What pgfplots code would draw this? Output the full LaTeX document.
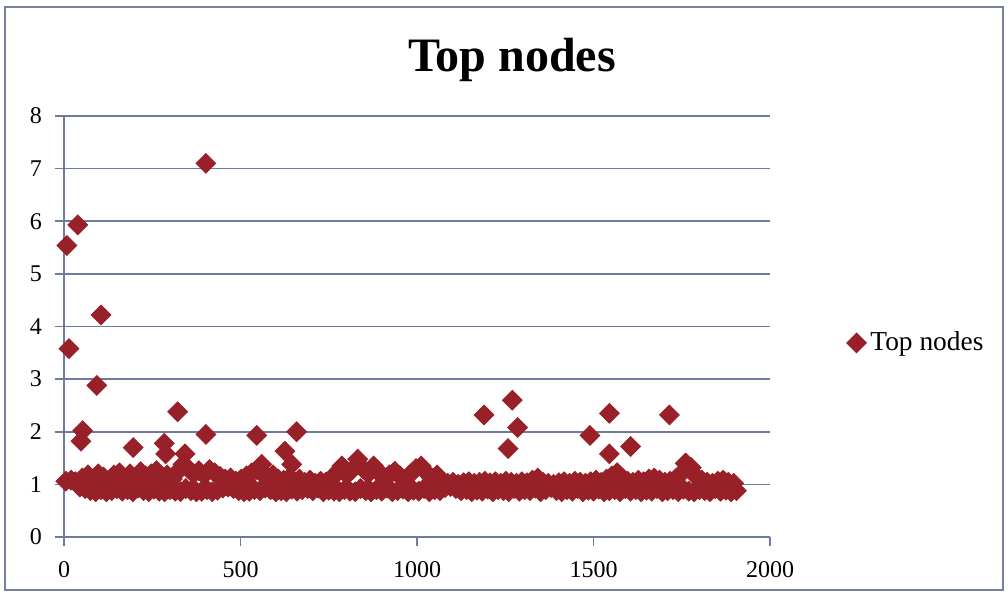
\documentclass[border=0pt]{standalone}
\usepackage{pgfplots}
\pgfplotsset{compat=1.18}
\usepackage{pgfplotstable}
\usepackage{fontspec}
\setmainfont{Liberation Serif}

\definecolor{markred}{RGB}{152,32,40}
\definecolor{gridblue}{RGB}{112,122,158}
\definecolor{framecol}{RGB}{120,128,160}

% isolated high values
\pgfplotstableread{
x y
8 5.54
39 5.93
402 7.10
105 4.22
14 3.58
93 2.88
53 2.02
48 1.82
322 2.38
402 1.95
196 1.70
284 1.78
288 1.58
343 1.58
546 1.93
659 2.00
626 1.63
645 1.38
560 1.38
1190 2.32
1270 2.60
1285 2.08
1258 1.68
1490 1.93
1545 2.35
1545 1.58
1605 1.72
1715 2.32
1760 1.40
}\outliers

% lower edge of the main band
\pgfplotstableread{
x y
45 0.95
60 0.92
75 0.88
90 0.86
105 0.90
120 0.86
135 0.88
150 0.92
165 0.87
180 0.90
195 0.86
210 0.93
225 0.88
240 0.86
255 0.91
270 0.87
285 0.86
300 0.90
315 0.87
330 0.86
345 0.92
360 0.88
375 0.86
390 0.87
405 0.90
420 0.86
435 0.89
450 0.93
465 0.95
480 0.92
495 0.88
510 0.86
525 0.87
540 0.90
555 0.88
570 0.93
585 0.90
600 0.86
615 0.88
630 0.86
645 0.91
660 0.87
675 0.90
690 0.92
705 0.88
720 0.93
735 0.86
750 0.89
765 0.87
780 0.86
795 0.90
810 0.87
825 0.86
840 0.92
855 0.88
870 0.86
885 0.90
900 0.87
915 0.93
930 0.86
945 0.88
960 0.91
975 0.86
990 0.89
1005 0.87
1020 0.92
1035 0.86
1050 0.90
1065 0.88
1080 0.94
1095 0.96
1110 0.92
1125 0.88
1140 0.90
1155 0.86
1170 0.89
1185 0.87
1200 0.91
1215 0.86
1230 0.90
1245 0.88
1260 0.86
1275 0.92
1290 0.87
1305 0.90
1320 0.88
1335 0.93
1350 0.86
1365 0.90
1380 0.94
1395 0.88
1410 0.86
1425 0.90
1440 0.87
1455 0.92
1470 0.86
1485 0.89
1500 0.87
1515 0.91
1530 0.86
1545 0.88
1560 0.90
1575 0.86
1590 0.92
1605 0.87
1620 0.90
1635 0.86
1650 0.89
1665 0.87
1680 0.92
1695 0.86
1710 0.88
1725 0.90
1740 0.86
1755 0.91
1770 0.87
1785 0.86
1800 0.90
1815 0.88
1830 0.86
1845 0.92
1860 0.87
1875 0.89
1890 0.86
1905 0.88
}\lowband

% upper edge of the main band
\pgfplotstableread{
x y
5 1.06
20 1.08
32 1.05
52 1.12
68 1.18
82 1.10
97 1.20
112 1.14
128 1.08
142 1.18
157 1.22
172 1.12
187 1.20
202 1.10
217 1.24
232 1.16
247 1.20
262 1.26
277 1.12
292 1.18
307 1.10
322 1.24
337 1.38
352 1.30
367 1.20
382 1.26
397 1.18
412 1.28
427 1.22
442 1.15
457 1.10
472 1.12
487 1.06
502 1.10
517 1.16
532 1.22
547 1.28
562 1.20
577 1.14
592 1.18
607 1.10
622 1.08
637 1.12
652 1.06
667 1.10
682 1.04
697 1.08
712 1.02
727 1.06
742 1.04
757 1.10
772 1.22
787 1.35
802 1.18
817 1.28
832 1.48
847 1.30
862 1.20
877 1.35
892 1.22
907 1.14
922 1.18
937 1.25
952 1.16
967 1.10
982 1.20
997 1.30
1012 1.35
1027 1.22
1042 1.12
1057 1.18
1072 1.06
1087 1.02
1102 1.04
1117 1.00
1132 1.03
1147 1.05
1162 1.02
1177 1.04
1192 1.06
1207 1.03
1222 1.05
1237 1.02
1252 1.06
1267 1.04
1282 1.02
1297 1.05
1312 1.03
1327 1.08
1342 1.12
1357 1.04
1372 1.02
1387 1.00
1402 1.03
1417 1.05
1432 1.02
1447 1.06
1462 1.04
1477 1.02
1492 1.05
1507 1.08
1522 1.04
1537 1.10
1552 1.16
1567 1.22
1582 1.12
1597 1.06
1612 1.04
1627 1.08
1642 1.05
1657 1.10
1672 1.12
1687 1.08
1702 1.04
1717 1.06
1732 1.10
1747 1.20
1762 1.40
1777 1.32
1792 1.14
1807 1.08
1822 1.04
1837 1.02
1852 1.06
1867 1.08
1882 1.04
1897 1.02
}\highband

\begin{document}
\begin{tikzpicture}
% page background and chart frame
\fill[white] (0,0) rectangle (504bp,298.5bp);
\draw[framecol, line width=0.8bp] (2.5bp,3.5bp) rectangle (501.5bp,295bp);
\node[anchor=base, font=\bfseries\fontsize{24bp}{28bp}\selectfont] at (256bp,262.5bp) {Top nodes};

\begin{axis}[
  at={(32bp,30bp)}, anchor=south west,
  scale only axis, width=353bp, height=210.5bp,
  xmin=0, xmax=2000, ymin=0, ymax=8,
  xtick={0,500,1000,1500,2000},
  ytick={0,1,...,8},
  axis lines*=left,
  axis line style={gridblue, line width=0.8bp, -},
  tick style={gridblue, line width=0.8bp},
  tick align=outside,
  major tick length=4.5bp,
  ymajorgrids,
  grid style={gridblue, line width=0.8bp},
  tick label style={font=\fontsize{12bp}{14bp}\selectfont, text=black},
  /pgf/number format/assume math mode=true,
  /pgf/number format/1000 sep={},
  xticklabel style={yshift=-4bp},
  yticklabel style={xshift=-3bp},
  clip=false,
  legend style={draw=none, fill=none, at={(1.108,0.461)}, anchor=west,
    font=\fontsize{13.7bp}{16bp}\selectfont, inner sep=0pt,
    /tikz/every even column/.append style={column sep=0pt}},
  legend cell align=left,
  legend image code/.code={\draw[#1] plot coordinates {(0.18cm,0cm)};},
]
\addplot[only marks, mark=square*, mark size=3.5bp,
  mark options={rotate=45, fill=markred, draw=markred}]
  table[x=x, y=y] {\lowband};
\addlegendentry{Top nodes}
\addplot[only marks, mark=square*, mark size=3.5bp, forget plot,
  mark options={rotate=45, fill=markred, draw=markred}]
  table[x=x, y=y] {\highband};
\addplot[only marks, mark=square*, mark size=3.5bp, forget plot,
  mark options={rotate=45, fill=markred, draw=markred}]
  table[x=x, y=y] {\outliers};
\end{axis}
\end{tikzpicture}
\end{document}
